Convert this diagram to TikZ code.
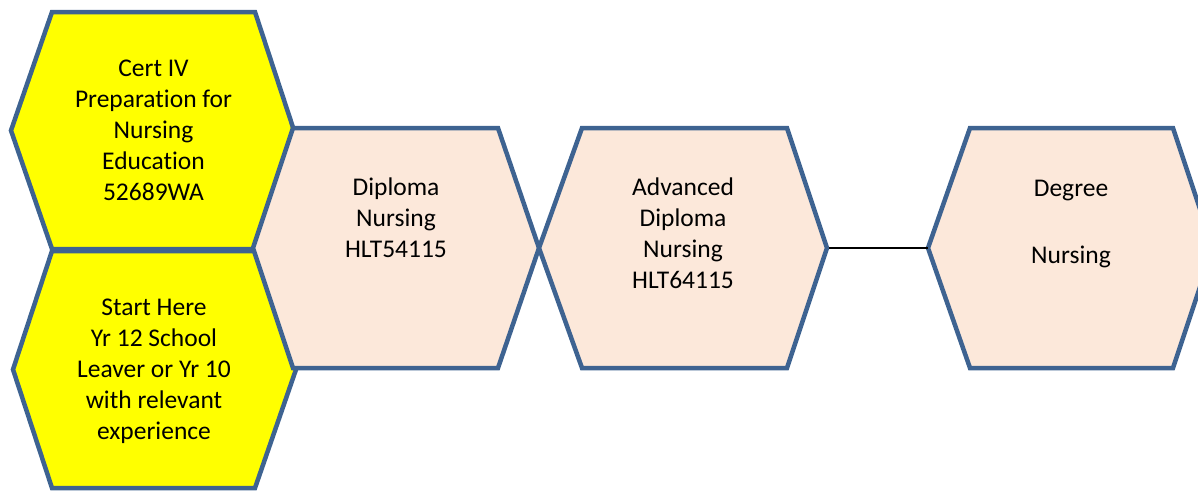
\documentclass[tikz,border=0pt]{standalone}
\usepackage{fontspec}
\setmainfont{Carlito}[Ligatures={NoCommon,NoContextual}]
\definecolor{hexblue}{HTML}{3E6391}
\definecolor{peach}{HTML}{FCE8DA}
\definecolor{hexyellow}{HTML}{FFFF00}
\newcommand\hexcell[8]{%
  \path[#2] (#3,{(#7+#8)/2}) -- (#4,#7) -- (#5,#7) -- (#6,{(#7+#8)/2}) -- (#5,#8) -- (#4,#8) -- cycle;
  \coordinate (#1-w) at (#3,{(#7+#8)/2});
  \coordinate (#1-e) at (#6,{(#7+#8)/2});
}
\begin{document}
\begin{tikzpicture}[x=1pt,y=-1pt,
  hexy/.style={draw=hexblue,line width=4.5pt,fill=hexyellow},
  hexp/.style={draw=hexblue,line width=4.5pt,fill=peach},
  lbl/.style={align=center,inner sep=0pt,anchor=base,font=\fontsize{25.5}{31}\selectfont},
  conn/.style={draw=black,line width=1.6pt}]
\useasboundingbox (0,0) rectangle (1198,491);
\begin{scope}
\clip (0,0) rectangle (1198,491);
\hexcell{cert}{hexy}{11}{52}{255}{294}{12}{249}
\hexcell{start}{hexy}{13}{52}{255}{296}{251}{488}
\hexcell{dip}{hexp}{253}{293}{498}{539}{128}{368}
\hexcell{adv}{hexp}{539}{582}{787}{827}{128}{368}
\hexcell{deg}{hexp}{928}{970}{1173}{1213}{128}{368}
\end{scope}
\node[lbl] (certt) at (153.5,200) {Cert IV\\Preparation for\\Nursing\\Education\\52689WA};
\node[lbl] (startt) at (154,439) {Start Here\\Yr 12 School\\Leaver or Yr 10\\with relevant\\experience};
\node[lbl] (dipt) at (396,257) {Diploma\\Nursing\\HLT54115};
\node[lbl] (advt) at (683,288) {Advanced\\Diploma\\Nursing\\HLT64115};
\node[lbl] (degt) at (1071,263) {Degree\\[36pt]Nursing};
\draw[conn] ([xshift=2pt]adv-e) -- (deg-w);
\end{tikzpicture}
\end{document}
